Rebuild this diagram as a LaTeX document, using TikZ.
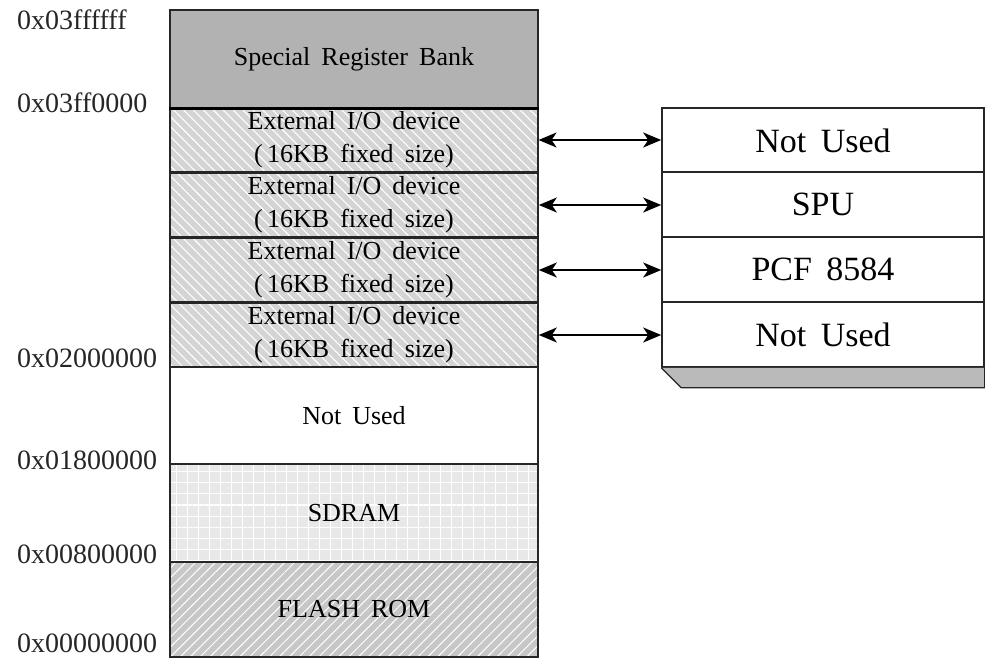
\documentclass[tikz,border=0pt]{standalone}
\usepackage{fontspec}
\setmainfont{Liberation Serif}[WordSpace=1.7]
\usepackage{tikz}
\usetikzlibrary{positioning,arrows.meta,patterns.meta}
\tikzset{>={Stealth[length=18pt,width=15pt,inset=5pt]}}
\tikzset{
  block/.style={draw=black!85,line width=1.6pt,minimum width=368pt,inner sep=0pt,align=center,
    font=\fontsize{26}{33}\selectfont},
  iobox/.style={block,minimum height=64pt,preaction={fill=black!17},
    pattern={Lines[angle=-45,distance=7pt,line width=1.1pt]},pattern color=white},
  dev/.style={draw=black!85,line width=1.6pt,fill=white,minimum width=322pt,minimum height=65pt,
    inner sep=0pt,font=\fontsize{34}{40}\selectfont},
  addr/.style={anchor=west,inner sep=0pt,text=black!85,font=\fontsize{28}{30}\selectfont},
  link/.style={<->,line width=1.8pt},
}

\begin{document}
\begin{tikzpicture}[x=1pt,y=-1pt]
\useasboundingbox (0,0) rectangle (985,659);

\node[block,minimum height=98pt,fill=black!30] (srb) at (354,59) {Special Register Bank};
\node[iobox] (io1) at (354,140) {External I/O device\\(\,16KB fixed size)};
\node[iobox] (io2) at (354,205) {External I/O device\\(\,16KB fixed size)};
\node[iobox] (io3) at (354,270) {External I/O device\\(\,16KB fixed size)};
\node[iobox] (io4) at (354,335) {External I/O device\\(\,16KB fixed size)};
\node[block,minimum height=97pt,fill=white] (unused) at (354,415.5) {Not Used};
\node[block,minimum height=98pt,preaction={fill=black!9},
  pattern={Hatch[distance=11pt,line width=1pt]},pattern color=white] (sdram) at (354,513) {SDRAM};
\node[block,minimum height=95pt,preaction={fill=black!22},
  pattern={Lines[angle=45,distance=7pt,line width=1pt]},pattern color=white] (flash) at (354,609.5) {FLASH ROM};
\draw[line width=3pt] (srb.south west) -- (srb.south east);

\node[addr] (a1) at (17,20) {0x03ffffff};
\node[addr] (a2) at (17,103) {0x03ff0000};
\node[addr] (a3) at (17,358) {0x02000000};
\node[addr] (a4) at (17,460) {0x01800000};
\node[addr] (a5) at (17,554) {0x00800000};
\node[addr] (a6) at (17,643) {0x00000000};

\node[dev] (dev1) at (823,140.5) {Not Used};
\node[dev] (dev2) at (823,204.5) {SPU};
\node[dev] (dev3) at (823,269.5) {PCF 8584};
\node[dev] (dev4) at (823,334.5) {Not Used};
\filldraw[fill=black!27,draw=black!85,line width=1.2pt]
  (dev4.south west) -- ++(20,20) -| (dev4.south east);

\draw[link] (io1.east) -- (io1.east -| dev1.west);
\draw[link] (io2.east) -- (io2.east -| dev2.west);
\draw[link] (io3.east) -- (io3.east -| dev3.west);
\draw[link] (io4.east) -- (io4.east -| dev4.west);
\end{tikzpicture}
\end{document}
